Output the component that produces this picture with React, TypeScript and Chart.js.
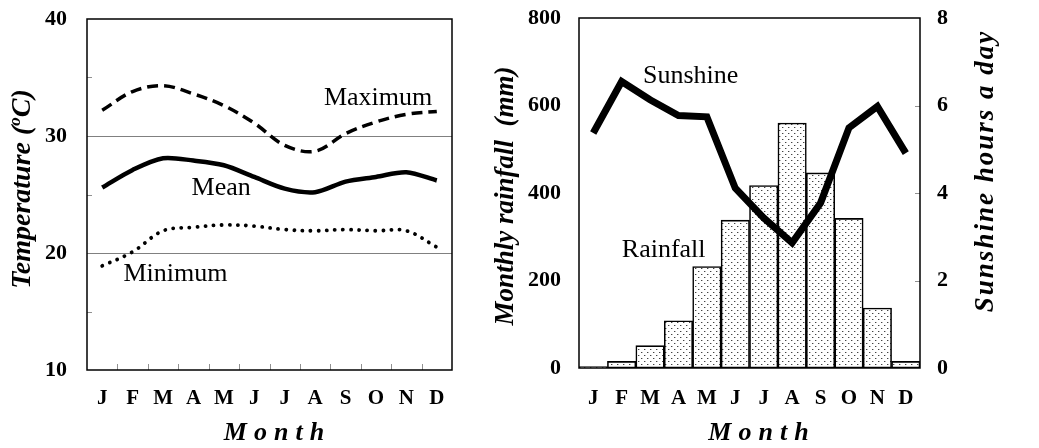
import React, { useEffect, useRef } from 'react';
import { Chart, registerables } from 'chart.js';
Chart.register(...registerables);

const months = ['J', 'F', 'M', 'A', 'M', 'J', 'J', 'A', 'S', 'O', 'N', 'D'];
const tempMax = [32.2, 33.8, 34.3, 33.6, 32.6, 31.1, 29.2, 28.7, 30.2, 31.2, 31.85, 32.1];
const tempMean = [25.6, 27.1, 28.1, 27.9, 27.5, 26.5, 25.5, 25.2, 26.1, 26.5, 26.9, 26.2];
const tempMin = [18.9, 20.1, 21.9, 22.2, 22.4, 22.3, 22.0, 21.9, 22.0, 21.9, 21.9, 20.5];
const rainfall = [3, 15, 51, 108, 232, 338, 417, 560, 446, 342, 137, 15];
const sunshine = [5.37, 6.55, 6.13, 5.77, 5.74, 4.11, 3.43, 2.86, 3.77, 5.49, 5.98, 4.91];
const tempGridValues = [20, 30];
const tempMinorTicks = [15, 25, 35];
const sunMinorTicks = [2, 4, 6];

const SERIF = "'Liberation Serif', 'Times New Roman', serif";

type Seg = { text: string; scale?: number; rise?: number };

function drawText(
  ctx: CanvasRenderingContext2D,
  x: number,
  y: number,
  segs: Seg[],
  size: number,
  style: string,
  spacing: number,
  rotate: boolean
) {
  ctx.save();
  ctx.translate(x, y);
  if (rotate) ctx.rotate(-Math.PI / 2);
  ctx.fillStyle = '#000';
  ctx.textBaseline = 'middle';
  ctx.textAlign = 'left';
  (ctx as any).letterSpacing = spacing + 'px';
  let total = 0;
  const widths: number[] = [];
  segs.forEach((s) => {
    ctx.font = `${style} ${Math.round(size * (s.scale || 1))}px ${SERIF}`;
    const w = ctx.measureText(s.text).width;
    widths.push(w);
    total += w;
  });
  let cx = -total / 2;
  segs.forEach((s, i) => {
    ctx.font = `${style} ${Math.round(size * (s.scale || 1))}px ${SERIF}`;
    ctx.fillText(s.text, cx, (s.rise || 0) * size);
    cx += widths[i];
  });
  ctx.restore();
}

function makePattern(): CanvasPattern | string {
  const c = document.createElement('canvas');
  c.width = 6;
  c.height = 6;
  const g = c.getContext('2d');
  if (!g) return '#ddd';
  g.fillStyle = '#fff';
  g.fillRect(0, 0, 6, 6);
  g.fillStyle = '#444';
  g.fillRect(1, 1, 1, 1);
  g.fillRect(4, 4, 1, 1);
  g.fillStyle = '#bbb';
  g.fillRect(2, 1, 1, 1);
  g.fillRect(5, 4, 1, 1);
  const p = g.createPattern(c, 'repeat');
  return p || '#ddd';
}

const leftDecor = {
  id: 'leftDecor',
  afterDraw(chart: any) {
    const { ctx, chartArea: a, scales } = chart;
    const x = scales.x;
    const y = scales.y;
    ctx.save();
    ctx.strokeStyle = '#909090';
    ctx.lineWidth = 1;
    tempMinorTicks.forEach((v) => {
      const py = Math.round(y.getPixelForValue(v)) + 0.5;
      ctx.beginPath();
      ctx.moveTo(a.left, py);
      ctx.lineTo(a.left + 5, py);
      ctx.stroke();
    });
    for (let i = 1; i < months.length; i++) {
      const px = Math.round((x.getPixelForValue(i - 1) + x.getPixelForValue(i)) / 2) + 0.5;
      ctx.beginPath();
      ctx.moveTo(px, a.bottom);
      ctx.lineTo(px, a.bottom - 6);
      ctx.stroke();
    }
    ctx.strokeStyle = '#000';
    ctx.lineWidth = 1.5;
    ctx.strokeRect(a.left, a.top, a.right - a.left, a.bottom - a.top);
    ctx.restore();

    const lab = (t: string, i: number, v: number) =>
      drawText(ctx, x.getPixelForValue(i), y.getPixelForValue(v), [{ text: t }], 26, 'normal', 0, false);
    lab('Maximum', 9.07, 33.2);
    lab('Mean', 3.91, 25.55);
    lab('Minimum', 2.41, 18.2);

    drawText(
      ctx,
      23,
      189,
      [{ text: 'Temperature (' }, { text: 'o', scale: 0.62, rise: -0.28 }, { text: 'C)' }],
      28,
      'italic bold',
      0,
      true
    );
    drawText(ctx, (a.left + a.right) / 2 + 8, 433, [{ text: 'Month' }], 26, 'italic bold', 7, false);
  },
};

const rightDecor = {
  id: 'rightDecor',
  afterDraw(chart: any) {
    const { ctx, chartArea: a, scales } = chart;
    const x = scales.x;
    const y = scales.y;
    const y1 = scales.y1;
    ctx.save();
    ctx.strokeStyle = '#909090';
    ctx.lineWidth = 1;
    sunMinorTicks.forEach((v) => {
      const py = Math.round(y1.getPixelForValue(v)) + 0.5;
      ctx.beginPath();
      ctx.moveTo(a.right - 5, py);
      ctx.lineTo(a.right, py);
      ctx.stroke();
    });
    ctx.strokeStyle = '#000';
    ctx.lineWidth = 1.5;
    ctx.strokeRect(a.left, a.top, a.right - a.left, a.bottom - a.top);
    ctx.restore();

    drawText(ctx, x.getPixelForValue(3.43), y1.getPixelForValue(6.66), [{ text: 'Sunshine' }], 26, 'normal', 0, false);
    drawText(ctx, x.getPixelForValue(2.48), y.getPixelForValue(270), [{ text: 'Rainfall' }], 26, 'normal', 0, false);

    drawText(ctx, 506 - 475, 196, [{ text: 'Monthly rainfall  (mm)' }], 27, 'italic bold', 0, true);
    drawText(ctx, 986 - 475, 171, [{ text: 'Sunshine hours a day' }], 27, 'italic bold', 2, true);
    drawText(ctx, 762 - 475, 433, [{ text: 'Month' }], 26, 'italic bold', 7, false);
  },
};

const noVPad = (s: any) => {
  s.paddingTop = 0;
  s.paddingBottom = 0;
};
const noHPad = (s: any) => {
  s.paddingLeft = 0;
  s.paddingRight = 0;
};

function TempChart() {
  const ref = useRef<HTMLCanvasElement | null>(null);
  useEffect(() => {
    if (!ref.current) return;
    const chart = new Chart(ref.current, {
      type: 'line',
      data: {
        labels: months,
        datasets: [
          {
            label: 'Maximum',
            data: tempMax,
            borderColor: '#000',
            borderWidth: 3.5,
            borderDash: [11, 6],
            pointRadius: 0,
            tension: 0.35,
            fill: false,
          },
          {
            label: 'Mean',
            data: tempMean,
            borderColor: '#000',
            borderWidth: 4.5,
            pointRadius: 0,
            tension: 0.3,
            fill: false,
          },
          {
            label: 'Minimum',
            data: tempMin,
            borderColor: '#000',
            borderWidth: 3.8,
            borderDash: [0.1, 8],
            borderCapStyle: 'round',
            pointRadius: 0,
            tension: 0.35,
            fill: false,
          },
        ],
      },
      options: {
        responsive: false,
        animation: false,
        devicePixelRatio: 1,
        layout: { padding: { top: 19, right: 23, left: 0, bottom: 0 } },
        plugins: { legend: { display: false }, tooltip: { enabled: false }, title: { display: false } },
        scales: {
          x: {
            offset: true,
            grid: { display: false },
            border: { display: false },
            ticks: { color: '#000', font: { family: SERIF, size: 21, weight: 'bold' }, padding: 8, maxRotation: 0, autoSkip: false },
            afterFit: (s: any) => {
              s.height = 78;
              noHPad(s);
            },
          },
          y: {
            min: 10,
            max: 40,
            border: { display: false },
            grid: {
              drawTicks: false,
              color: (c: any) => (tempGridValues.includes(c.tick?.value) ? '#808080' : 'rgba(0,0,0,0)'),
              lineWidth: 1,
            },
            ticks: {
              stepSize: 5,
              color: '#000',
              padding: 20,
              font: { family: SERIF, size: 22, weight: 'bold' },
              callback: (v: any) => (Number(v) % 10 === 0 ? String(v) : ''),
            },
            afterFit: (s: any) => {
              s.width = 87;
              noVPad(s);
            },
          },
        },
      } as any,
      plugins: [leftDecor],
    });
    return () => chart.destroy();
  }, []);
  return <canvas ref={ref} width={475} height={448} style={{ position: 'absolute', left: 0, top: 0 }} />;
}

function RainChart() {
  const ref = useRef<HTMLCanvasElement | null>(null);
  useEffect(() => {
    if (!ref.current) return;
    const pattern = makePattern();
    const chart = new Chart(ref.current, {
      type: 'bar',
      data: {
        labels: months,
        datasets: [
          {
            type: 'line',
            label: 'Sunshine',
            data: sunshine,
            yAxisID: 'y1',
            borderColor: '#000',
            borderWidth: 7,
            pointRadius: 0,
            tension: 0,
            fill: false,
            order: 0,
          } as any,
          {
            type: 'bar',
            label: 'Rainfall',
            data: rainfall,
            yAxisID: 'y',
            backgroundColor: pattern,
            borderColor: '#000',
            borderWidth: 1.6,
            borderSkipped: false,
            barPercentage: 1,
            categoryPercentage: 1,
            order: 1,
          } as any,
        ],
      },
      options: {
        responsive: false,
        animation: false,
        devicePixelRatio: 1,
        layout: { padding: { top: 18, right: 0, left: 0, bottom: 0 } },
        plugins: { legend: { display: false }, tooltip: { enabled: false }, title: { display: false } },
        scales: {
          x: {
            offset: true,
            grid: { display: false },
            border: { display: false },
            ticks: { color: '#000', font: { family: SERIF, size: 21, weight: 'bold' }, padding: 10, maxRotation: 0, autoSkip: false },
            afterFit: (s: any) => {
              s.height = 80;
              noHPad(s);
            },
          },
          y: {
            position: 'left',
            min: 0,
            max: 800,
            border: { display: false },
            grid: { display: false, drawTicks: false },
            ticks: { stepSize: 200, color: '#000', padding: 18, font: { family: SERIF, size: 22, weight: 'bold' } },
            afterFit: (s: any) => {
              s.width = 104;
              noVPad(s);
            },
          },
          y1: {
            position: 'right',
            min: 0,
            max: 8,
            border: { display: false },
            grid: { display: false, drawTicks: false },
            ticks: { stepSize: 2, color: '#000', padding: 17, font: { family: SERIF, size: 22, weight: 'bold' } },
            afterFit: (s: any) => {
              s.width = 119;
              noVPad(s);
            },
          },
        },
      } as any,
      plugins: [rightDecor],
    });
    return () => chart.destroy();
  }, []);
  return <canvas ref={ref} width={564} height={448} style={{ position: 'absolute', left: 475, top: 0 }} />;
}

export default function App() {
  return (
    <div style={{ position: 'fixed', left: 0, top: 0, width: 1039, height: 448, background: '#fff' }}>
      <TempChart />
      <RainChart />
    </div>
  );
}
